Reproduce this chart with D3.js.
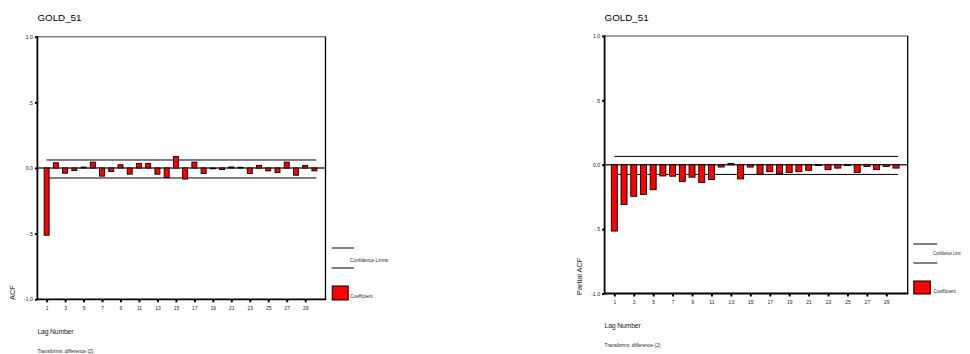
<!DOCTYPE html>
<html>
<head>
<meta charset="utf-8">
<script src="https://cdn.jsdelivr.net/npm/d3@7"></script>
<style>
  html, body { margin: 0; padding: 0; background: #fff; }
  svg { display: block; font-family: "Liberation Sans", Arial, sans-serif; }
</style>
</head>
<body>
<svg id="chart" width="970" height="354"></svg>
<script>
// ---- data ----
const lags = d3.range(1, 31);
const acfValues = [-0.512, 0.040, -0.040, -0.020, 0.007, 0.045, -0.062, -0.027, 0.025, -0.047,
                   0.035, 0.035, -0.047, -0.072, 0.087, -0.084, 0.045, -0.042, -0.003, -0.012,
                   0.008, 0.006, -0.042, 0.020, -0.022, -0.035, 0.045, -0.055, 0.020, -0.022];
const pacfValues = [-0.515, -0.309, -0.245, -0.230, -0.194, -0.087, -0.089, -0.130, -0.097, -0.138,
                    -0.115, -0.018, 0.010, -0.110, -0.018, -0.074, -0.054, -0.069, -0.061, -0.054,
                    -0.043, -0.003, -0.038, -0.026, -0.003, -0.061, -0.013, -0.038, -0.013, -0.026];
const acfConf = [0.061, -0.076];
const pacfConf = [0.065, -0.075];
const yTicks = [1, 0.5, 0, -0.5, -1];
const yTickLabels = ["1.0", ".5", "0.0", "-.5", "-1.0"];
const xTicks = [1, 3, 5, 7, 9, 11, 13, 15, 17, 19, 21, 23, 25, 27, 29];
const titleText = "GOLD_51";
const xLabel = "Lag Number";
const footnote = "Transforms: difference (2)";

const svg = d3.select("#chart");

function panel(cfg) {
  const g = svg.append("g");
  const x = d3.scaleLinear().domain([0, 31.2]).range([cfg.left, cfg.right]);
  const y = d3.scaleLinear().domain([-1, 1]).range([cfg.bottom, cfg.top]);

  // title
  g.append("text").attr("x", cfg.left).attr("y", cfg.titleY)
    .attr("font-size", 9.8).attr("fill", "#000").text(titleText);

  // confidence limits
  cfg.conf.forEach(c => {
    g.append("line").attr("x1", x(1)).attr("x2", x(30.2))
      .attr("y1", y(c)).attr("y2", y(c))
      .attr("stroke", "#000").attr("stroke-width", 1);
  });

  // zero line
  g.append("line").attr("x1", cfg.left).attr("x2", cfg.right)
    .attr("y1", y(0)).attr("y2", y(0))
    .attr("stroke", "#333").attr("stroke-width", 1.4);

  // bars
  g.selectAll("rect.bar").data(cfg.values).enter().append("rect")
    .attr("class", "bar")
    .attr("x", (d, i) => x(lags[i]) - cfg.barW / 2)
    .attr("width", cfg.barW)
    .attr("y", d => Math.min(y(d), y(0)))
    .attr("height", d => Math.max(0.8, Math.abs(y(d) - y(0))))
    .attr("fill", "#ff0000").attr("stroke", "#000").attr("stroke-width", 0.9);

  // frame
  g.append("line").attr("x1", cfg.left).attr("x2", cfg.right)
    .attr("y1", cfg.top).attr("y2", cfg.top)
    .attr("stroke", "#808080").attr("stroke-width", 1.5);
  g.append("line").attr("x1", cfg.right).attr("x2", cfg.right)
    .attr("y1", cfg.top).attr("y2", cfg.bottom)
    .attr("stroke", "#000").attr("stroke-width", 1.3);
  g.append("line").attr("x1", cfg.left).attr("x2", cfg.right + 0.7)
    .attr("y1", cfg.bottom).attr("y2", cfg.bottom)
    .attr("stroke", "#000").attr("stroke-width", 1.8);
  g.append("line").attr("x1", cfg.left).attr("x2", cfg.left)
    .attr("y1", cfg.top - 0.7).attr("y2", cfg.bottom + 0.9)
    .attr("stroke", "#000").attr("stroke-width", 1.8);

  // y axis
  const yAxis = d3.axisLeft(y).tickValues(yTicks)
    .tickFormat((d, i) => yTickLabels[i]).tickSize(2).tickPadding(2);
  const ya = g.append("g").attr("transform", `translate(${cfg.left - 0.5},0)`).call(yAxis);
  ya.select(".domain").remove();
  ya.selectAll(".tick line").attr("stroke", "#000").attr("stroke-width", 2);
  ya.selectAll(".tick text").attr("font-size", 5.2).attr("fill", "#222")
    .attr("font-family", "'Liberation Sans', Arial, sans-serif");

  // x axis
  const xAxis = d3.axisBottom(x).tickValues(xTicks).tickFormat(d3.format("d"))
    .tickSize(2.5).tickPadding(4);
  const xa = g.append("g").attr("transform", `translate(0,${cfg.bottom + 0.5})`).call(xAxis);
  xa.select(".domain").remove();
  xa.selectAll(".tick line").attr("stroke", "#000").attr("stroke-width", 2);
  xa.selectAll(".tick text").attr("font-size", 5).attr("fill", "#222")
    .attr("font-family", "'Liberation Sans', Arial, sans-serif");

  // y label
  g.append("text")
    .attr("transform", `translate(${cfg.yLabelX},${cfg.yLabelY}) rotate(-90)`)
    .attr("font-size", 7.4).attr("fill", "#222").text(cfg.yLabel);

  // x label and footnote
  g.append("text").attr("x", cfg.left).attr("y", cfg.xLabelY)
    .attr("font-size", 6.9).attr("fill", "#222").attr("letter-spacing", -0.2).text(xLabel);
  g.append("text").attr("x", cfg.left).attr("y", cfg.footY)
    .attr("font-size", 4.9).attr("fill", "#222").text(footnote);

  // legend
  const L = cfg.legend;
  [L.line1Y, L.line2Y].forEach(ly => {
    g.append("line").attr("x1", L.x).attr("x2", L.x + L.lineW)
      .attr("y1", ly).attr("y2", ly).attr("stroke", "#000").attr("stroke-width", 1);
  });
  const ct = g.append("text").attr("x", L.textX).attr("y", L.confTextY)
    .attr("font-size", 4.8).attr("fill", "#222").text(L.confText);
  if (L.confLen) ct.attr("textLength", L.confLen).attr("lengthAdjust", "spacingAndGlyphs");
  g.append("rect").attr("x", L.x + 0.5).attr("y", L.boxY)
    .attr("width", L.boxW).attr("height", L.boxH)
    .attr("fill", "#ff0000").attr("stroke", "#000").attr("stroke-width", 1);
  g.append("text").attr("x", L.textX).attr("y", L.coefTextY)
    .attr("font-size", 4.8).attr("fill", "#222").text("Coefficient");
}

panel({
  left: 37.4, right: 325.5, top: 36.7, bottom: 299.3,
  values: acfValues, conf: acfConf, barW: 5,
  titleY: 20.5, yLabel: "ACF", yLabelX: 15.3, yLabelY: 300,
  xLabelY: 334, footY: 353,
  legend: { x: 331.7, lineW: 22.3, line1Y: 248, line2Y: 268, textX: 350,
            confText: "Confidence Limits", confTextY: 261.5,
            boxY: 286, boxW: 16, boxH: 14, coefTextY: 297.5 }
});

panel({
  left: 604.6, right: 907.7, top: 36, bottom: 293.5,
  values: pacfValues, conf: pacfConf, barW: 6,
  titleY: 21, yLabel: "Partial ACF", yLabelX: 581.5, yLabelY: 295,
  xLabelY: 328.3, footY: 346.7,
  legend: { x: 913.3, lineW: 24, line1Y: 244, line2Y: 263, textX: 933.3,
            confText: "Confidence Limit", confTextY: 255, confLen: 27.3,
            boxY: 281, boxW: 16.5, boxH: 13, coefTextY: 292.5 }
});
</script>
</body>
</html>
